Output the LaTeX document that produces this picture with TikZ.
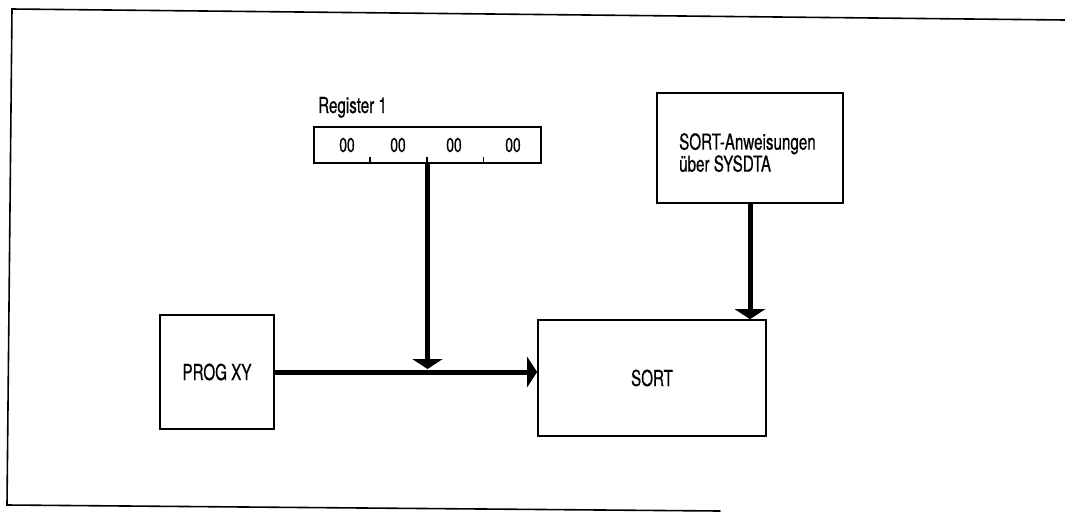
\documentclass[tikz,border=0pt]{standalone}
\usepackage{fontspec}
\setmainfont{TeX Gyre Heros}
\newfontfamily\condsf[FakeStretch=0.69,FakeBold=0.5]{TeX Gyre Heros}
\usetikzlibrary{arrows.meta}
\tikzset{
  framerule/.style={line width=1.6pt,line cap=round},
  unit/.style={draw=black,line width=1.6pt,inner sep=0pt,align=center,font=\condsf\fontsize{22}{22}\selectfont},
  lbl/.style={inner sep=0pt,align=left,font=\condsf\fontsize{22}{22}\selectfont},
  digit/.style={inner sep=0pt,font=\condsf\fontsize{20}{20}\selectfont},
  tickmark/.style={line width=1.8pt},
  flow/.style={-{Triangle[length=10pt,width=30pt]},line width=5pt,draw=black}
}
\begin{document}
\begin{tikzpicture}[x=1pt,y=-1pt]
  \useasboundingbox (0,0) rectangle (1065,512);

  % open frame of the scanned page
  \draw[framerule] (1065,20) -- (12,9) -- (7,505) -- (720,511);

  % boxes
  \node[unit,minimum width=114pt,minimum height=114pt] (prog) at (217,372) {PROG XY};
  \node[unit,minimum width=228pt,minimum height=116pt] (sort) at (652,378) {SORT};
  \node[unit,minimum width=186pt,minimum height=110pt] (sysdta) at (750,148) {};
  \node[lbl,anchor=north west] (sysdtatext) at (679,133) {SORT-Anweisungen\\über SYSDTA};

  % register with four bytes
  \node[unit,minimum width=227pt,minimum height=36pt] (reg) at (427.5,145) {};
  \node[lbl,anchor=base west] (reglabel) at (318,113) {Register 1};
  \foreach \i/\xpos in {1/347,2/398,3/454,4/513}
    \node[digit] (byte\i) at (\xpos,145) {00};
  \foreach \i in {1,2,3}
    \draw[tickmark] ([xshift=\i*56.75pt]reg.south west) -- ++(0,-7);

  % connectors
  \coordinate (join) at ([yshift=3pt]reg.south |- prog.east);
  \draw[flow] (prog.east) -- (prog.east -| sort.west);
  \draw[flow] (reg.south) -- (join);
  \draw[flow] (sysdta.south) -- (sysdta.south |- sort.north);
\end{tikzpicture}
\end{document}
